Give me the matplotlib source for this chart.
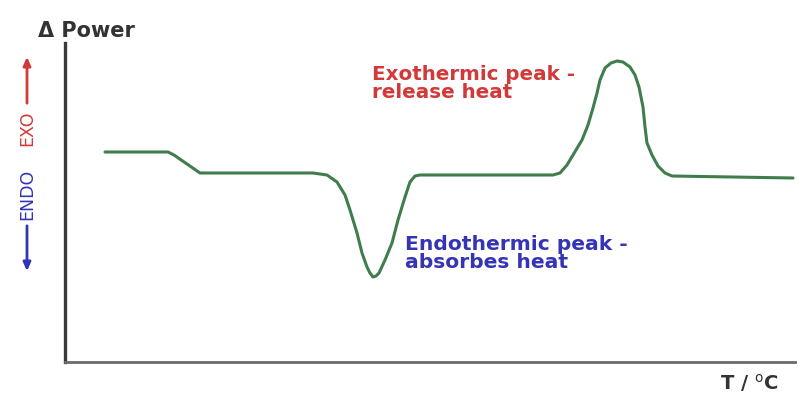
import matplotlib
matplotlib.use("Agg")
import matplotlib.pyplot as plt

# DSC trace (arbitrary units): temperature axis and heat-flow signal
temperature = [40, 103, 109, 135, 248, 262, 272, 280, 285, 292, 297, 302, 305,
               308, 311, 314, 320, 327, 333, 340, 345, 350, 355, 475, 488, 495,
               502, 508, 517, 523, 528, 532, 535, 540, 546, 552, 558, 565, 570,
               574, 578, 580, 582, 587, 593, 600, 607, 728]
power = [210, 210, 207, 189, 189, 187, 180, 167, 152, 129, 109, 95, 89,
         85, 86, 89, 102, 119, 142, 165, 180, 186, 187, 187, 187, 189,
         197, 207, 222, 237, 254, 269, 282, 294, 299, 301, 300, 295, 287,
         275, 255, 235, 219, 207, 196, 189, 186, 184]

y_label = "\u0394 Power"
x_label = "T / $^{\\mathrm{o}}$C"
exo_note = ["Exothermic peak -", "release heat"]
endo_note = ["Endothermic peak -", "absorbes heat"]

W, H = 798, 393
fig = plt.figure(figsize=(W / 100, H / 100), dpi=100)

# main plotting area: only the left and bottom axis lines are shown
ax = fig.add_axes([65 / W, (H - 362) / H, 730 / W, (362 - 43) / H])
ax.plot(temperature, power, color="#3f7d4c", lw=2.2, solid_joinstyle="round",
        solid_capstyle="round")
ax.set_xlim(0, 730)
ax.set_ylim(0, 319)
for side in ("top", "right"):
    ax.spines[side].set_visible(False)
ax.spines["left"].set_color("#3a3a3a")
ax.spines["left"].set_linewidth(2.4)
ax.spines["bottom"].set_color("#6a6a6a")
ax.spines["bottom"].set_linewidth(2.0)
ax.set_xticks([])
ax.set_yticks([])

# overlay in figure pixel units for the annotations
ov = fig.add_axes([0, 0, 1, 1], facecolor="none")
ov.set_xlim(0, W)
ov.set_ylim(H, 0)
ov.axis("off")

bold = dict(family="DejaVu Sans", weight="bold")
red = "#d23a3a"
blue = "#3434b4"

ov.text(38, 37, y_label, fontsize=15, color="#333333", va="baseline", **bold)
ov.text(720, 390, x_label, fontsize=14, color="#333333", va="baseline", **bold)

ov.text(372, 80, exo_note[0], fontsize=14.3, color=red, va="baseline", **bold)
ov.text(372, 98, exo_note[1], fontsize=14.3, color=red, va="baseline", **bold)
ov.text(405, 250, endo_note[0], fontsize=14.6, color=blue, va="baseline", **bold)
ov.text(405, 268, endo_note[1], fontsize=14.6, color=blue, va="baseline", **bold)

# EXO / ENDO direction indicator on the left
ov.text(27, 128, "EXO", rotation=90, fontsize=12.5, color=red,
        ha="center", va="center", family="DejaVu Sans")
ov.text(27, 194, "ENDO", rotation=90, fontsize=12.5, color=blue,
        ha="center", va="center", family="DejaVu Sans")
ov.annotate("", xy=(27, 54), xytext=(27, 106),
            arrowprops=dict(arrowstyle="-|>,head_length=0.5,head_width=0.22",
                            color=red, lw=2))
ov.annotate("", xy=(27, 274), xytext=(27, 223),
            arrowprops=dict(arrowstyle="-|>,head_length=0.5,head_width=0.22",
                            color=blue, lw=2))

fig.savefig("out.png", dpi=100, facecolor="white")
